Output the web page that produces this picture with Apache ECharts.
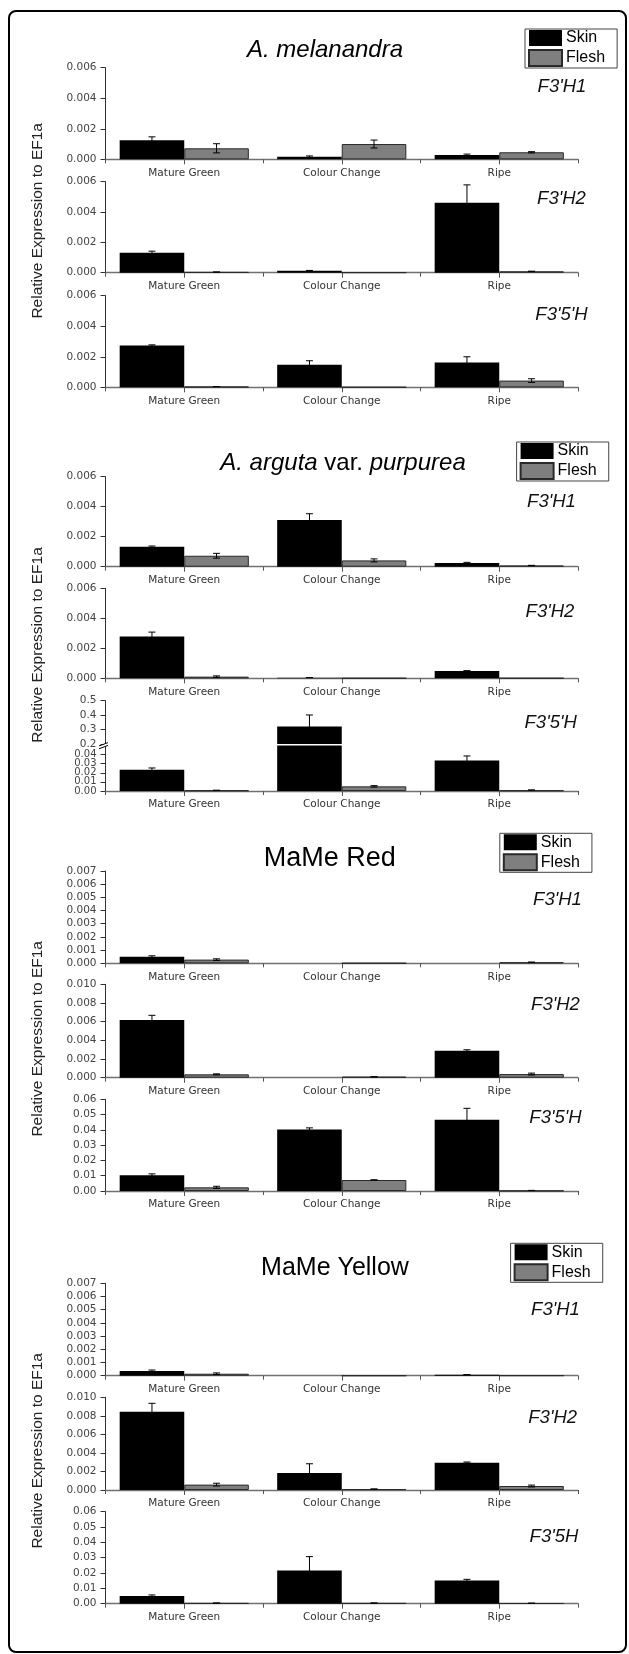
<!DOCTYPE html>
<html><head><meta charset="utf-8">
<script src="https://cdn.jsdelivr.net/npm/echarts@6/dist/echarts.min.js"></script>
<style>html,body{margin:0;padding:0;background:#fff;} #c{width:629px;height:1654px;}</style>
</head><body><div id="c"></div>
<script>
// ---------------- DATA ----------------
const categories = ['Mature Green', 'Colour Change', 'Ripe'];
const seriesNames = ['Skin', 'Flesh'];
const yAxisTitle = 'Relative Expression to EF1a';
const geneLabels = [
  ["F3'H1", "F3'H2", "F3'5'H"],
  ["F3'H1", "F3'H2", "F3'5'H"],
  ["F3'H1", "F3'H2", "F3'5'H"],
  ["F3'H1", "F3'H2", "F3'5H"]
];

// y-axis ranges: [min, max, interval, decimals]
const range006 = [0, 0.006, 0.002, 3];
const range007 = [0, 0.007, 0.001, 3];
const range010 = [0, 0.010, 0.002, 3];
const range06 = [0, 0.06, 0.01, 2];
const rangeBreakLow = [0, 0.05, 0.01, 2];
const rangeBreakHigh = [0.2, 0.5, 0.1, 1];

// A. melanandra
const melF3H1Skin = [0.00125, 0.00017, 0.00028];
const melF3H1SkinErr = [0.00022, 0.00005, 0.00006];
const melF3H1Flesh = [0.00072, 0.00100, 0.00046];
const melF3H1FleshErr = [0.00030, 0.00026, 0.00004];
const melF3H2Skin = [0.00131, 0.00013, 0.00461];
const melF3H2SkinErr = [0.00011, 0.00002, 0.00118];
const melF3H2Flesh = [0.00004, 0.00001, 0.00009];
const melF3H2FleshErr = [0.00001, 0, 0.00001];
const melF35HSkin = [0.00273, 0.00148, 0.00162];
const melF35HSkinErr = [0.00005, 0.00026, 0.00038];
const melF35HFlesh = [0.00004, 0.00001, 0.00044];
const melF35HFleshErr = [0.00001, 0, 0.00012];

// A. arguta var. purpurea
const argF3H1Skin = [0.00133, 0.00311, 0.00024];
const argF3H1SkinErr = [0.00005, 0.00042, 0.00005];
const argF3H1Flesh = [0.00073, 0.00042, 0.00008];
const argF3H1FleshErr = [0.00016, 0.00010, 0.00001];
const argF3H2Skin = [0.00278, 0.00004, 0.00049];
const argF3H2SkinErr = [0.00030, 0.00001, 0.00002];
const argF3H2Flesh = [0.00011, 0.00001, 0.00001];
const argF3H2FleshErr = [0.00005, 0, 0];
const argF35HSkin = [0.0233, 0.321, 0.0335];
const argF35HSkinErr = [0.0020, 0.080, 0.0050];
const argF35HFlesh = [0.0007, 0.0051, 0.0007];
const argF35HFleshErr = [0.0002, 0.0008, 0.0006];

// MaMe Red
const redF3H1Skin = [0.00050, 0, 0.00001];
const redF3H1SkinErr = [0.00007, 0, 0];
const redF3H1Flesh = [0.00028, 0.00001, 0.00008];
const redF3H1FleshErr = [0.00006, 0, 0.00001];
const redF3H2Skin = [0.00618, 0, 0.00289];
const redF3H2SkinErr = [0.00050, 0, 0.00010];
const redF3H2Flesh = [0.00036, 0.00010, 0.00039];
const redF3H2FleshErr = [0.00005, 0.00001, 0.00010];
const redF35HSkin = [0.0103, 0.0402, 0.0467];
const redF35HSkinErr = [0.0009, 0.0011, 0.0074];
const redF35HFlesh = [0.0024, 0.0072, 0.0002];
const redF35HFleshErr = [0.0007, 0.0001, 0.0002];

// MaMe Yellow
const yelF3H1Skin = [0.00035, 0, 0.00007];
const yelF3H1SkinErr = [0.00008, 0, 0.00001];
const yelF3H1Flesh = [0.00015, 0, 0.00001];
const yelF3H1FleshErr = [0.00006, 0, 0];
const yelF3H2Skin = [0.00845, 0.00183, 0.00295];
const yelF3H2SkinErr = [0.00090, 0.00100, 0.00007];
const yelF3H2Flesh = [0.00058, 0.00010, 0.00043];
const yelF3H2FleshErr = [0.00015, 0.00001, 0.00010];
const yelF35HSkin = [0.0050, 0.0217, 0.0152];
const yelF35HSkinErr = [0.0007, 0.0090, 0.0007];
const yelF35HFlesh = [0.0004, 0.0004, 0.0003];
const yelF35HFleshErr = [0.0001, 0.0001, 0.0001];

// ---------------- LAYOUT / STYLE ----------------
const GRID_LEFT = 105.5, GRID_WIDTH = 472.5;
const CAT_GAP = 0.18;
const TICK_FONT = '"DejaVu Sans", sans-serif';
const TEXT_FONT = '"Liberation Sans", Arial, sans-serif';

const panels = [
  {top: 67.7, bottom: 159.3, range: range006, d: [melF3H1Skin, melF3H1SkinErr, melF3H1Flesh, melF3H1FleshErr]},
  {top: 181.7, bottom: 272.7, range: range006, d: [melF3H2Skin, melF3H2SkinErr, melF3H2Flesh, melF3H2FleshErr]},
  {top: 295.7, bottom: 387.3, range: range006, d: [melF35HSkin, melF35HSkinErr, melF35HFlesh, melF35HFleshErr]},
  {top: 476.7, bottom: 566.7, range: range006, d: [argF3H1Skin, argF3H1SkinErr, argF3H1Flesh, argF3H1FleshErr]},
  {top: 588.3, bottom: 678.3, range: range006, d: [argF3H2Skin, argF3H2SkinErr, argF3H2Flesh, argF3H2FleshErr]},
  {broken: true, upTop: 700.7, upBottom: 744.0, top: 745.5, bottom: 791, range: rangeBreakLow, rangeHigh: rangeBreakHigh,
   d: [argF35HSkin, argF35HSkinErr, argF35HFlesh, argF35HFleshErr]},
  {top: 871, bottom: 963.3, range: range007, d: [redF3H1Skin, redF3H1SkinErr, redF3H1Flesh, redF3H1FleshErr]},
  {top: 984.3, bottom: 1077.7, range: range010, d: [redF3H2Skin, redF3H2SkinErr, redF3H2Flesh, redF3H2FleshErr]},
  {top: 1099.3, bottom: 1191, range: range06, d: [redF35HSkin, redF35HSkinErr, redF35HFlesh, redF35HFleshErr]},
  {top: 1283.3, bottom: 1375.7, range: range007, d: [yelF3H1Skin, yelF3H1SkinErr, yelF3H1Flesh, yelF3H1FleshErr]},
  {top: 1397.3, bottom: 1490, range: range010, d: [yelF3H2Skin, yelF3H2SkinErr, yelF3H2Flesh, yelF3H2FleshErr]},
  {top: 1511.7, bottom: 1603.7, range: range06, d: [yelF35HSkin, yelF35HSkinErr, yelF35HFlesh, yelF35HFleshErr]}
];

const genePos = [
  [562, 87], [561.5, 199.3], [561.5, 315],
  [551.5, 501.7], [550, 611.7], [550.7, 723.3],
  [557.5, 900], [555.5, 1005], [555.5, 1118.3],
  [555.5, 1310], [552.7, 1417.7], [554, 1536.7]
];
const legendPos = [[525, 29], [516.6, 442], [499.8, 833.3], [510.6, 1243.3]];
const yTitlePos = [[38, 220.8], [38, 645], [38, 1038.8], [38, 1450.8]];

const grids = [], xAxes = [], yAxes = [], series = [];

function yLabelStyle(size) {
  return {fontFamily: TICK_FONT, fontSize: size, color: '#444', margin: 9,
    showMinLabel: true, showMaxLabel: true, hideOverlap: false};
}

function addGrid(top, bottom, range, showX, hideAbove, compact) {
  const gi = grids.length;
  grids.push({left: GRID_LEFT, width: GRID_WIDTH, top: top, height: bottom - top});
  xAxes.push({
    type: 'category', gridIndex: gi, data: categories, position: 'bottom', show: showX,
    axisLine: {show: true, lineStyle: {color: '#707070', width: 1.3}},
    axisTick: {show: true, length: 4, lineStyle: {color: '#555'}},
    axisLabel: {fontFamily: TICK_FONT, fontSize: 10.5, color: '#333', margin: 8}
  });
  const xi = xAxes.length - 1;
  if (showX) {
    xAxes.push({
      type: 'category', gridIndex: gi, data: categories, position: 'bottom',
      axisLine: {show: false}, axisLabel: {show: false},
      axisTick: {show: true, alignWithLabel: true, length: 5, lineStyle: {color: '#555'}}
    });
  }
  function fmt(parity) {
    return function (v) {
      if (hideAbove !== undefined && v > hideAbove) return '';
      if (parity !== undefined && (Math.round(v / range[2]) % 2) !== parity) return '';
      return v.toFixed(range[3]);
    };
  }
  const mainLbl = yLabelStyle(compact ? 10 : 10.5);
  mainLbl.formatter = fmt(compact ? 0 : undefined);
  yAxes.push({
    type: 'value', gridIndex: gi, min: range[0], max: range[1], interval: range[2], position: 'left',
    splitLine: {show: false},
    axisLine: {show: true, lineStyle: {color: '#333', width: 1}},
    axisTick: {show: true, length: 5, lineStyle: {color: '#333'}},
    axisLabel: mainLbl
  });
  const yi = yAxes.length - 1;
  if (compact) {
    // second label layer (odd ticks) so that dense labels are not auto-hidden
    const oddLbl = yLabelStyle(10);
    oddLbl.formatter = fmt(1);
    yAxes.push({
      type: 'value', gridIndex: gi, min: range[0], max: range[1], interval: range[2], position: 'left', offset: 0,
      splitLine: {show: false}, axisLine: {show: false}, axisTick: {show: false},
      axisLabel: oddLbl
    });
  }
  return {xi: xi, yi: yi};
}

function errSeries(ax, vals, errs, sign) {
  return {
    type: 'custom', xAxisIndex: ax.xi, yAxisIndex: ax.yi, clip: true, silent: true, z: 5,
    data: vals.map(function (v, i) { return [i, v, errs[i]]; }),
    renderItem: function (params, api) {
      const i = api.value(0), v = api.value(1), e = api.value(2);
      if (!e) return null;
      const c = api.coord([i, v]);
      const band = api.size([1, 0])[0];
      const bw = band * (1 - CAT_GAP) / 2;
      const x = c[0] + sign * bw / 2;
      const yTop = api.coord([i, v + e])[1];
      const yBot = api.coord([i, Math.max(v - e, 0)])[1];
      const cap = 3.5;
      const st = {stroke: '#000', lineWidth: 1};
      return {type: 'group', children: [
        {type: 'line', shape: {x1: x, y1: yTop, x2: x, y2: yBot}, style: st},
        {type: 'line', shape: {x1: x - cap, y1: yTop, x2: x + cap, y2: yTop}, style: st},
        {type: 'line', shape: {x1: x - cap, y1: yBot, x2: x + cap, y2: yBot}, style: st}
      ]};
    }
  };
}

function barSeries(ax, d) {
  series.push({
    type: 'bar', name: seriesNames[0], xAxisIndex: ax.xi, yAxisIndex: ax.yi, data: d[0],
    barGap: '0%', barCategoryGap: (CAT_GAP * 100) + '%', silent: true, clip: true,
    itemStyle: {color: '#000'}
  });
  series.push({
    type: 'bar', name: seriesNames[1], xAxisIndex: ax.xi, yAxisIndex: ax.yi, data: d[2],
    barGap: '0%', barCategoryGap: (CAT_GAP * 100) + '%', silent: true, clip: true,
    itemStyle: {color: '#7f7f7f', borderColor: '#2a2a2a', borderWidth: 1}
  });
  series.push(errSeries(ax, d[0], d[1], -1));
  series.push(errSeries(ax, d[2], d[3], 1));
}

panels.forEach(function (p) {
  if (p.broken) {
    const up = addGrid(p.upTop, p.upBottom, p.rangeHigh, false);
    barSeries(up, p.d);
    const low = addGrid(p.top, p.bottom, p.range, true, 0.045, true);
    barSeries(low, p.d);
  } else {
    const ax = addGrid(p.top, p.bottom, p.range, true);
    barSeries(ax, p.d);
  }
});

// titles
const titles = [];
const mainTitles = [
  {text: 'A. melanandra', x: 325, y: 50, size: 24, italic: true},
  {text: '{i|A. arguta} {n|var.} {i|purpurea}', x: 343, y: 463.3, size: 24, rich: true},
  {text: 'MaMe Red', x: 329.7, y: 858.3, size: 27},
  {text: 'MaMe Yellow', x: 335, y: 1268.3, size: 25}
];
mainTitles.forEach(function (t) {
  const ts = {fontFamily: TEXT_FONT, fontSize: t.size, fontWeight: 'normal', color: '#000',
    fontStyle: t.italic ? 'italic' : 'normal'};
  if (t.rich) {
    ts.rich = {
      i: {fontFamily: TEXT_FONT, fontSize: t.size, fontStyle: 'italic', color: '#000'},
      n: {fontFamily: TEXT_FONT, fontSize: t.size, fontStyle: 'normal', color: '#000'}
    };
  }
  titles.push({text: t.text, left: t.x, top: t.y, textAlign: 'center', textVerticalAlign: 'middle',
    padding: 0, textStyle: ts});
});
let gp = 0;
geneLabels.forEach(function (g) {
  g.forEach(function (lbl) {
    const pos = genePos[gp++];
    titles.push({text: lbl, left: pos[0], top: pos[1], textAlign: 'center', textVerticalAlign: 'middle',
      padding: 0, textStyle: {fontFamily: TEXT_FONT, fontSize: 18.5, fontStyle: 'italic', fontWeight: 'normal', color: '#111'}});
  });
});

const legends = legendPos.map(function (p) {
  return {
    data: seriesNames, orient: 'vertical', left: p[0], top: p[1], selectedMode: false,
    icon: 'rect', itemWidth: 33, itemHeight: 16, itemGap: 3,
    padding: [1, 12, 1, 3], borderColor: '#444', borderWidth: 1,
    textStyle: {fontFamily: TEXT_FONT, fontSize: 16, color: '#000', padding: [0, 0, 0, -1]}
  };
});

const graphics = [
  {type: 'rect', silent: true, z: -10, shape: {x: 9, y: 11, width: 617, height: 1641, r: 7},
   style: {fill: 'none', stroke: '#000', lineWidth: 2}}
];
yTitlePos.forEach(function (p) {
  graphics.push({type: 'text', x: p[0], y: p[1], rotation: Math.PI / 2, silent: true,
    style: {text: yAxisTitle, font: '15.5px ' + TEXT_FONT, fill: '#222',
      textAlign: 'center', textVerticalAlign: 'middle', align: 'center', verticalAlign: 'middle'}});
});
// axis-break marker
graphics.push({type: 'polygon', silent: true, z: 100,
  shape: {points: [[99, 746], [108, 742.6], [108, 745.4], [99, 748.8]]},
  style: {fill: '#fff', stroke: 'none'}});
graphics.push({type: 'line', silent: true, z: 101, shape: {x1: 99, y1: 746, x2: 108, y2: 742.6},
  style: {stroke: '#000', lineWidth: 1}});
graphics.push({type: 'line', silent: true, z: 101, shape: {x1: 99, y1: 748.8, x2: 108, y2: 745.4},
  style: {stroke: '#000', lineWidth: 1}});

const chart = echarts.init(document.getElementById('c'), null, {renderer: 'canvas'});
chart.setOption({
  animation: false,
  backgroundColor: '#fff',
  title: titles,
  legend: legends,
  grid: grids,
  xAxis: xAxes,
  yAxis: yAxes,
  series: series,
  graphic: graphics
});
</script></body></html>
